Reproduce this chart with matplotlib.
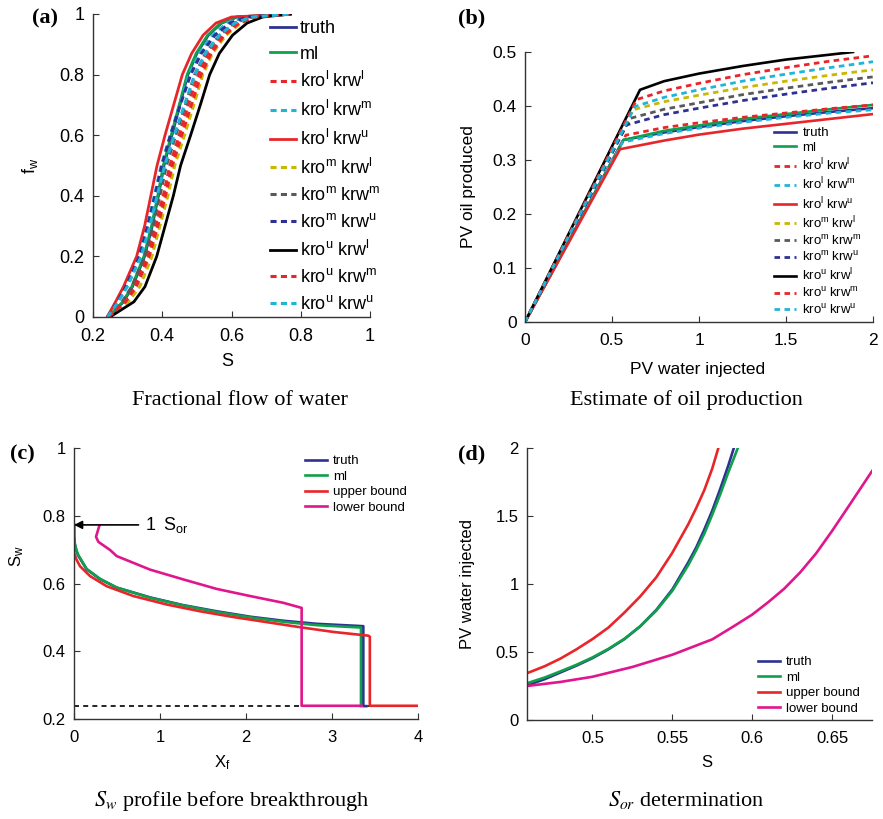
import matplotlib
matplotlib.use("Agg")
import matplotlib.pyplot as plt
from matplotlib.ticker import FuncFormatter

plt.rcParams['font.family'] = ['Liberation Sans', 'DejaVu Sans']
plt.rcParams['mathtext.fontset'] = 'stix'

# ---------------- data ----------------
labels = ['truth', 'ml',
          r'$\mathregular{kro^l\ krw^l}$', r'$\mathregular{kro^l\ krw^m}$', r'$\mathregular{kro^l\ krw^u}$',
          r'$\mathregular{kro^m\ krw^l}$', r'$\mathregular{kro^m\ krw^m}$', r'$\mathregular{kro^m\ krw^u}$',
          r'$\mathregular{kro^u\ krw^l}$', r'$\mathregular{kro^u\ krw^m}$', r'$\mathregular{kro^u\ krw^u}$']
colors = ['#2E3192', '#0FA04B', '#E8262A', '#1DB5D8', '#E8262A', '#C9B800',
          '#595959', '#2E3192', '#000000', '#E8262A', '#1DB5D8']
styles = ['-', '-', '--', '--', '-', '--', '--', '--', '-', '--', '--']

# (a) fractional flow: fw levels and saturation of each curve at those levels
fw_levels = [0, 0.05, 0.1, 0.2, 0.3, 0.4, 0.5, 0.6, 0.7, 0.8, 0.87, 0.93, 0.97, 0.99, 1.0]
s_truth = [0.244, 0.288, 0.314, 0.349, 0.371, 0.389, 0.405, 0.428, 0.451, 0.474, 0.500, 0.533, 0.571, 0.616, 0.770]
s_ml    = [0.244, 0.286, 0.312, 0.347, 0.369, 0.387, 0.403, 0.426, 0.449, 0.472, 0.498, 0.531, 0.569, 0.614, 0.770]
s_ll    = [0.244, 0.289, 0.319, 0.355, 0.380, 0.403, 0.422, 0.449, 0.475, 0.504, 0.533, 0.571, 0.614, 0.659, 0.770]
s_lm    = [0.241, 0.269, 0.294, 0.333, 0.357, 0.377, 0.397, 0.423, 0.450, 0.478, 0.507, 0.545, 0.587, 0.636, 0.770]
s_lu    = [0.241, 0.265, 0.288, 0.326, 0.349, 0.367, 0.385, 0.408, 0.433, 0.458, 0.485, 0.518, 0.555, 0.600, 0.770]
s_ml_   = [0.246, 0.302, 0.335, 0.370, 0.393, 0.416, 0.436, 0.464, 0.491, 0.517, 0.545, 0.584, 0.627, 0.672, 0.770]
s_mm    = [0.243, 0.284, 0.312, 0.349, 0.373, 0.393, 0.412, 0.439, 0.467, 0.494, 0.525, 0.565, 0.607, 0.654, 0.770]
s_mu    = [0.242, 0.271, 0.295, 0.334, 0.358, 0.379, 0.399, 0.424, 0.452, 0.482, 0.513, 0.552, 0.596, 0.645, 0.770]
s_ul    = [0.249, 0.318, 0.350, 0.384, 0.408, 0.432, 0.453, 0.482, 0.510, 0.537, 0.565, 0.603, 0.645, 0.690, 0.770]
s_um    = [0.245, 0.294, 0.325, 0.362, 0.387, 0.409, 0.429, 0.456, 0.484, 0.512, 0.541, 0.579, 0.622, 0.668, 0.770]
s_uu    = [0.242, 0.273, 0.299, 0.339, 0.364, 0.385, 0.407, 0.435, 0.464, 0.494, 0.525, 0.565, 0.609, 0.659, 0.770]
frac_curves = [s_truth, s_ml, s_ll, s_lm, s_lu, s_ml_, s_mm, s_mu, s_ul, s_um, s_uu]

# (b) oil production: PV injected / PV oil produced
pv_std = [0.8, 1.0, 1.25, 1.5, 1.75, 2.0]
oil_x = [
    [0, 0.565] + pv_std,
    [0, 0.565] + pv_std,
    [0, 0.580] + pv_std,
    [0, 0.560] + pv_std,
    [0, 0.546] + pv_std,
    [0, 0.620] + pv_std,
    [0, 0.603] + pv_std,
    [0, 0.584] + pv_std,
    [0, 0.661, 0.8, 1.0, 1.25, 1.5, 1.75, 1.885],
    [0, 0.642] + pv_std,
    [0, 0.632] + pv_std,
]
oil_y = [
    [0, 0.337, 0.351, 0.361, 0.372, 0.381, 0.389, 0.396],
    [0, 0.337, 0.354, 0.364, 0.376, 0.385, 0.394, 0.402],
    [0, 0.346, 0.360, 0.369, 0.379, 0.387, 0.395, 0.402],
    [0, 0.333, 0.349, 0.359, 0.370, 0.379, 0.387, 0.393],
    [0, 0.320, 0.336, 0.347, 0.358, 0.367, 0.376, 0.385],
    [0, 0.393, 0.408, 0.420, 0.434, 0.446, 0.457, 0.467],
    [0, 0.377, 0.394, 0.406, 0.421, 0.433, 0.444, 0.454],
    [0, 0.365, 0.384, 0.396, 0.410, 0.422, 0.433, 0.443],
    [0, 0.430, 0.446, 0.460, 0.474, 0.486, 0.495, 0.500],
    [0, 0.412, 0.428, 0.442, 0.458, 0.471, 0.483, 0.493],
    [0, 0.399, 0.416, 0.430, 0.446, 0.459, 0.471, 0.482],
]

# (c) Sw profile before breakthrough
prof_names = ['truth', 'ml', 'upper bound', 'lower bound']
prof_colors = ['#2E3192', '#0FA04B', '#E8262A', '#E0168C']
xf_truth = [0, 0, 0.01, 0.03, 0.05, 0.147, 0.302, 0.496, 0.884, 1.271, 1.659, 2.047, 2.434, 2.822, 3.364, 3.364, 3.40]
sw_truth = [0.773, 0.74, 0.715, 0.695, 0.682, 0.642, 0.613, 0.588, 0.559, 0.536, 0.518, 0.502, 0.490, 0.481, 0.474, 0.238, 0.238]
xf_ml    = [0, 0, 0.01, 0.03, 0.05, 0.147, 0.302, 0.496, 0.884, 1.271, 1.659, 2.047, 2.434, 2.822, 3.337, 3.337]
sw_ml    = [0.773, 0.74, 0.717, 0.697, 0.684, 0.643, 0.614, 0.588, 0.558, 0.535, 0.516, 0.500, 0.487, 0.477, 0.470, 0.238]
xf_upper = [0, 0, 0.03, 0.07, 0.186, 0.38, 0.69, 1.078, 1.465, 1.853, 2.24, 2.628, 3.016, 3.422, 3.44, 3.44, 4.0]
sw_upper = [0.773, 0.691, 0.670, 0.651, 0.622, 0.592, 0.563, 0.538, 0.518, 0.501, 0.486, 0.471, 0.457, 0.446, 0.443, 0.239, 0.239]
xf_lower = [0.294, 0.256, 0.283, 0.419, 0.496, 0.884, 1.271, 1.659, 2.047, 2.434, 2.647, 2.647, 3.345]
sw_lower = [0.770, 0.738, 0.723, 0.699, 0.681, 0.641, 0.612, 0.584, 0.563, 0.543, 0.528, 0.239, 0.239]
sw_initial = 0.237
sor_level = 0.773

# (d) Sor determination
sd_truth = [0.459, 0.47, 0.48, 0.49, 0.50, 0.51, 0.52, 0.53, 0.54, 0.55, 0.56, 0.565, 0.57, 0.575, 0.58, 0.585, 0.5885]
pv_truth = [0.255, 0.30, 0.35, 0.40, 0.455, 0.52, 0.595, 0.69, 0.81, 0.96, 1.16, 1.27, 1.40, 1.54, 1.70, 1.87, 2.0]
sd_ml    = [0.459, 0.47, 0.48, 0.49, 0.50, 0.51, 0.52, 0.53, 0.54, 0.55, 0.56, 0.565, 0.57, 0.575, 0.58, 0.585, 0.591]
pv_ml    = [0.27, 0.312, 0.358, 0.406, 0.46, 0.523, 0.597, 0.69, 0.805, 0.95, 1.14, 1.25, 1.37, 1.51, 1.66, 1.82, 2.0]
sd_upper = [0.459, 0.47, 0.48, 0.49, 0.50, 0.51, 0.52, 0.53, 0.54, 0.55, 0.56, 0.565, 0.57, 0.575, 0.5788]
pv_upper = [0.344, 0.395, 0.452, 0.52, 0.595, 0.68, 0.79, 0.91, 1.05, 1.23, 1.44, 1.56, 1.69, 1.85, 2.0]
sd_lower = [0.459, 0.48, 0.50, 0.525, 0.55, 0.575, 0.588, 0.60, 0.61, 0.62, 0.63, 0.64, 0.65, 0.66, 0.675]
pv_lower = [0.25, 0.28, 0.318, 0.39, 0.48, 0.593, 0.686, 0.775, 0.866, 0.965, 1.085, 1.225, 1.39, 1.565, 1.83]

# ---------------- figure ----------------
W, H = 883, 819
fig = plt.figure(figsize=(W / 100, H / 100), dpi=100)


def px_axes(l, t, r, b):
    return fig.add_axes([l / W, 1 - b / H, (r - l) / W, (b - t) / H])


def style(ax, fs):
    for side in ['top', 'right']:
        ax.spines[side].set_visible(False)
    for side in ['left', 'bottom']:
        ax.spines[side].set_color('#333333')
        ax.spines[side].set_linewidth(1.0)
    ax.tick_params(direction='in', length=4, width=0.8, colors='#333333', labelcolor='black', labelsize=fs)
    ax.tick_params(axis='y', pad=6)
    ax.tick_params(axis='x', pad=8)
    fmt = FuncFormatter(lambda v, p: '%g' % round(v, 6))
    ax.xaxis.set_major_formatter(fmt)
    ax.yaxis.set_major_formatter(fmt)


def leg_at(ax, x, y, fs, hl, tp, ls):
    h, lab = ax.get_legend_handles_labels()
    ax.legend(h, lab, loc='upper left', bbox_to_anchor=(x / W, 1 - y / H), bbox_transform=fig.transFigure,
              frameon=False, borderpad=0, borderaxespad=0, fontsize=fs, handlelength=hl,
              handletextpad=tp, labelspacing=ls)


# (a)
ax_a = px_axes(93, 14, 370, 317)
for s, c, st, lab in zip(frac_curves, colors, styles, labels):
    if st == '--':
        ax_a.plot(s, fw_levels, color=c, lw=2.2, ls=st, dashes=(2.0, 1.4), label=lab)
    else:
        ax_a.plot(s, fw_levels, color=c, lw=2.0, ls=st, label=lab)
ax_a.set_xlim(0.2, 1)
ax_a.set_ylim(0, 1)
ax_a.set_xticks([0.2, 0.4, 0.6, 0.8, 1])
ax_a.set_yticks([0, 0.2, 0.4, 0.6, 0.8, 1])
style(ax_a, 13)
ax_a.set_xlabel('S', fontsize=13)
ax_a.set_ylabel(r'$\mathregular{f_w}$', fontsize=13)
ax_a.xaxis.set_label_coords(0.484, -0.12)
ax_a.yaxis.set_label_coords(-0.19, 0.5)
leg_at(ax_a, 270, 20, 13, 1.45, 0.2, 0.48)

# (b)
ax_b = px_axes(525, 52, 873, 322)
for xs, ys, c, st, lab in zip(oil_x, oil_y, colors, styles, labels):
    if st == '--':
        ax_b.plot(xs, ys, color=c, lw=2.0, ls=st, dashes=(2.0, 1.6), label=lab)
    else:
        ax_b.plot(xs, ys, color=c, lw=1.9, ls=st, label=lab)
ax_b.set_xlim(0, 2)
ax_b.set_ylim(0, 0.5)
ax_b.set_xticks([0, 0.5, 1, 1.5, 2])
ax_b.set_yticks([0, 0.1, 0.2, 0.3, 0.4, 0.5])
style(ax_b, 12.5)
ax_b.set_xlabel('PV water injected', fontsize=12.5)
ax_b.set_ylabel('PV oil produced', fontsize=12.5)
ax_b.xaxis.set_label_coords(0.497, -0.148)
ax_b.yaxis.set_label_coords(-0.14, 0.5)
leg_at(ax_b, 774, 127, 9.5, 1.7, 0.45, 0.2)

# (c)
ax_c = px_axes(74, 448, 418, 719)
ax_c.plot([0, 4], [sw_initial, sw_initial], color='black', lw=1.2, ls='--', dashes=(3, 2.5))
for xs, ys, c, lab in zip([xf_truth, xf_ml, xf_upper, xf_lower], [sw_truth, sw_ml, sw_upper, sw_lower],
                          prof_colors, prof_names):
    ax_c.plot(xs, ys, color=c, lw=1.9, label=lab)
ax_c.annotate('', xy=(0.0, sor_level), xytext=(0.75, sor_level),
              arrowprops=dict(arrowstyle='-|>', color='black', lw=1.2, mutation_scale=12, shrinkA=0, shrinkB=0))
ax_c.text(0.83, sor_level, r'$\mathregular{1\ \ S_{or}}$', fontsize=13, va='center', ha='left')
ax_c.set_xlim(0, 4)
ax_c.set_ylim(0.2, 1)
ax_c.set_xticks([0, 1, 2, 3, 4])
ax_c.set_yticks([0.2, 0.4, 0.6, 0.8, 1])
style(ax_c, 12)
ax_c.set_xlabel(r'$\mathregular{X_f}$', fontsize=12)
ax_c.set_ylabel(r'$\mathregular{S_w}$', fontsize=12)
ax_c.xaxis.set_label_coords(0.43, -0.125)
ax_c.yaxis.set_label_coords(-0.14, 0.6)
leg_at(ax_c, 305, 455, 9.5, 1.65, 0.45, 0.25)

# (d)
ax_d = px_axes(527, 448, 872, 720)
for xs, ys, c, lab in zip([sd_truth, sd_ml, sd_upper, sd_lower], [pv_truth, pv_ml, pv_upper, pv_lower],
                          prof_colors, prof_names):
    ax_d.plot(xs, ys, color=c, lw=1.9, label=lab)
ax_d.set_xlim(0.459, 0.675)
ax_d.set_ylim(0, 2)
ax_d.set_xticks([0.5, 0.55, 0.6, 0.65])
ax_d.set_yticks([0, 0.5, 1, 1.5, 2])
style(ax_d, 12)
ax_d.set_xlabel('S', fontsize=12)
ax_d.set_ylabel('PV water injected', fontsize=12)
ax_d.xaxis.set_label_coords(0.52, -0.128)
ax_d.yaxis.set_label_coords(-0.15, 0.5)
leg_at(ax_d, 758, 656, 9.5, 1.65, 0.45, 0.25)

# captions and panel letters
serif = ['Liberation Serif', 'DejaVu Serif']
fig.text(240 / W, 1 - 405 / H, 'Fractional flow of water', family=serif, fontsize=16, ha='center', va='baseline')
fig.text(686 / W, 1 - 405 / H, 'Estimate of oil production', family=serif, fontsize=16, ha='center', va='baseline')
fig.text(232 / W, 1 - 806 / H, r'$S_w$ profile before breakthrough', family=serif, fontsize=16, ha='center', va='baseline')
fig.text(686 / W, 1 - 806 / H, r'$S_{or}$ determination', family=serif, fontsize=16, ha='center', va='baseline')
for lab, x, y in [('(a)', 32, 23), ('(b)', 458, 23), ('(c)', 10, 459), ('(d)', 458, 459)]:
    fig.text(x / W, 1 - y / H, lab, family=serif, fontsize=16, fontweight='bold', ha='left', va='baseline')

fig.savefig('out.png', dpi=100)
